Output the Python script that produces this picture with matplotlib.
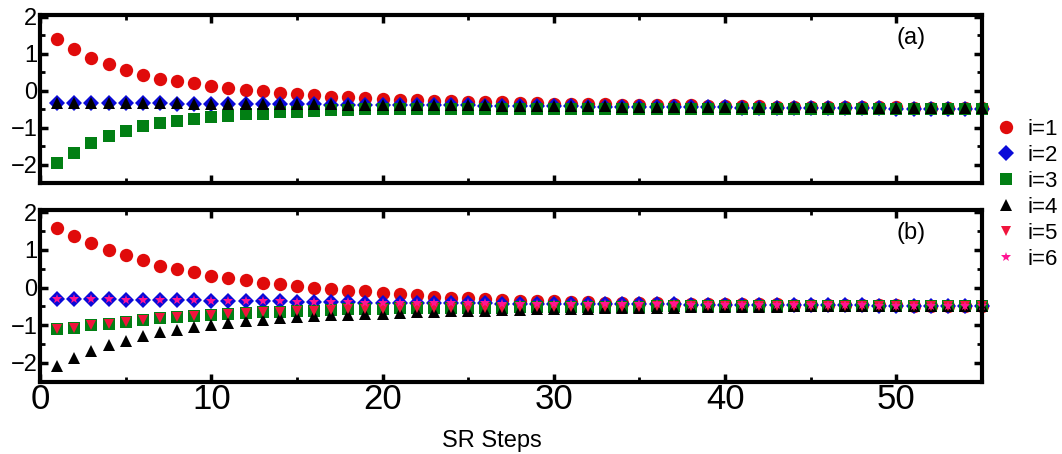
import numpy as np
import matplotlib
matplotlib.use("Agg")
import matplotlib.pyplot as plt
from matplotlib.ticker import MultipleLocator

plt.rcParams["font.family"] = ["Liberation Sans", "DejaVu Sans"]

steps = np.arange(1, 56)

# panel (a): four components
a_i1 = [1.40, 1.13, 0.88, 0.72, 0.56, 0.42, 0.32, 0.26, 0.21, 0.12, 0.07, 0.01, -0.02, -0.07, -0.10, -0.13, -0.16, -0.18,
        -0.20, -0.22, -0.24, -0.26, -0.27, -0.29, -0.30, -0.31, -0.32, -0.33, -0.34, -0.35, -0.36, -0.36, -0.37, -0.38, -0.38, -0.39, -0.40,
        -0.40, -0.41, -0.41, -0.42, -0.42, -0.43, -0.43, -0.44, -0.44, -0.44, -0.45, -0.45, -0.45, -0.46, -0.46, -0.46, -0.47, -0.47]
a_i2 = [-0.33, -0.33, -0.33, -0.34, -0.34, -0.34, -0.34, -0.35, -0.35, -0.35,
        -0.36, -0.36, -0.36, -0.37, -0.37, -0.37, -0.38, -0.38, -0.38, -0.39,
        -0.39, -0.39, -0.40, -0.40, -0.40, -0.41, -0.41, -0.41, -0.42, -0.42,
        -0.42, -0.43, -0.43, -0.43, -0.44, -0.44, -0.44, -0.45, -0.45, -0.45,
        -0.46, -0.46, -0.46, -0.47, -0.47, -0.47, -0.48, -0.48, -0.48, -0.49,
        -0.49, -0.49, -0.49, -0.50, -0.50]
a_i3 = [-1.95, -1.70, -1.43, -1.23, -1.08, -0.96, -0.88, -0.82, -0.76, -0.72, -0.69, -0.64, -0.62, -0.59, -0.57, -0.55, -0.53, -0.52,
        -0.51, -0.50, -0.50, -0.50, -0.49, -0.49, -0.49, -0.49, -0.49, -0.49, -0.49, -0.49, -0.49, -0.49, -0.49, -0.49, -0.49, -0.49, -0.49,
        -0.49, -0.49, -0.49, -0.49, -0.49, -0.49, -0.49, -0.49, -0.49, -0.49, -0.49, -0.49, -0.49, -0.49, -0.49, -0.49, -0.49, -0.49]
a_i4 = [-0.33, -0.33, -0.33, -0.33, -0.34, -0.34, -0.34, -0.34, -0.35, -0.35,
        -0.35, -0.36, -0.36, -0.36, -0.37, -0.37, -0.37, -0.38, -0.38, -0.38,
        -0.39, -0.39, -0.39, -0.40, -0.40, -0.40, -0.41, -0.41, -0.41, -0.42,
        -0.42, -0.42, -0.42, -0.43, -0.43, -0.43, -0.43, -0.44, -0.44, -0.44,
        -0.44, -0.45, -0.45, -0.45, -0.45, -0.45, -0.46, -0.46, -0.46, -0.46,
        -0.46, -0.46, -0.47, -0.47, -0.47]

# panel (b): six components
b_i1 = [1.57, 1.37, 1.19, 1.00, 0.86, 0.73, 0.58, 0.49, 0.40, 0.31, 0.25, 0.20, 0.13, 0.09, 0.03, -0.01, -0.04, -0.08,
        -0.10, -0.14, -0.18, -0.21, -0.24, -0.27, -0.29, -0.31, -0.33, -0.35, -0.36, -0.37, -0.38, -0.39, -0.40, -0.41, -0.42, -0.42, -0.43,
        -0.43, -0.44, -0.44, -0.45, -0.45, -0.45, -0.46, -0.46, -0.46, -0.47, -0.47, -0.47, -0.47, -0.48, -0.48, -0.48, -0.48, -0.48]
b_i2 = [-0.31, -0.31, -0.31, -0.31, -0.32, -0.32, -0.33, -0.33, -0.34, -0.35,
        -0.35, -0.36, -0.37, -0.37, -0.38, -0.38, -0.39, -0.39, -0.40, -0.40,
        -0.41, -0.41, -0.41, -0.42, -0.42, -0.42, -0.43, -0.43, -0.43, -0.44,
        -0.44, -0.44, -0.44, -0.45, -0.45, -0.45, -0.45, -0.46, -0.46, -0.46,
        -0.46, -0.46, -0.47, -0.47, -0.47, -0.47, -0.47, -0.47, -0.48, -0.48,
        -0.48, -0.48, -0.48, -0.48, -0.48]
b_i3 = [-1.11, -1.06, -1.00, -0.96, -0.91, -0.87, -0.81, -0.78, -0.75, -0.73, -0.69, -0.67, -0.65, -0.64, -0.63, -0.61, -0.59, -0.58,
        -0.57, -0.56, -0.55, -0.55, -0.54, -0.54, -0.53, -0.53, -0.53, -0.52, -0.52, -0.52,
        -0.52, -0.51, -0.51, -0.51, -0.51, -0.50, -0.50, -0.50, -0.50, -0.50,
        -0.49, -0.49, -0.49, -0.49, -0.49, -0.49, -0.49, -0.49, -0.49, -0.49,
        -0.49, -0.49, -0.49, -0.49, -0.49]
b_i4 = [-2.08, -1.86, -1.68, -1.52, -1.42, -1.28, -1.19, -1.12, -1.04, -1.00, -0.93, -0.88, -0.85, -0.82, -0.79, -0.76, -0.74, -0.72,
        -0.70, -0.69, -0.67, -0.66, -0.65, -0.63, -0.62, -0.61, -0.60, -0.59, -0.58, -0.57,
        -0.56, -0.56, -0.55, -0.54, -0.54, -0.53, -0.53, -0.52, -0.52, -0.52,
        -0.51, -0.51, -0.51, -0.50, -0.50, -0.50, -0.50, -0.49, -0.49, -0.49,
        -0.49, -0.49, -0.49, -0.48, -0.48]
b_i5 = list(b_i3)
b_i6 = list(b_i2)

labels = ["i=1", "i=2", "i=3", "i=4", "i=5", "i=6"]
styles = [
    dict(marker="o", color="#e00b0b", ms=9.6),
    dict(marker="D", color="#0a0ad8", ms=7.8),
    dict(marker="s", color="#027f14", ms=8.2),
    dict(marker="^", color="#000000", ms=9),
    dict(marker="v", color="#f0143c", ms=7),
    dict(marker="*", color="#ff1493", ms=7),
]

fig = plt.figure(figsize=(10.62, 4.54), dpi=100)
ax_a = fig.add_axes([0.0377, 0.597, 0.8870, 0.370])
ax_b = fig.add_axes([0.0377, 0.159, 0.8870, 0.378])

handles = []
for series, st, lab in zip([a_i1, a_i2, a_i3, a_i4], styles, labels):
    ax_a.plot(steps, series, linestyle="none", marker=st["marker"], color=st["color"],
              markersize=st["ms"], markeredgewidth=0, clip_on=False)

for series, st, lab in zip([b_i1, b_i2, b_i3, b_i4, b_i5, b_i6], styles, labels):
    h, = ax_b.plot(steps, series, linestyle="none", marker=st["marker"], color=st["color"],
                   markersize=st["ms"], markeredgewidth=0, clip_on=False, label=lab)
    handles.append(h)

for ax, tag in [(ax_a, "(a)"), (ax_b, "(b)")]:
    ax.set_xlim(0, 55)
    ax.set_ylim(-2.5, 2.05)
    ax.xaxis.set_major_locator(MultipleLocator(10))
    ax.xaxis.set_minor_locator(MultipleLocator(5))
    ax.yaxis.set_major_locator(MultipleLocator(1))
    ax.yaxis.set_minor_locator(MultipleLocator(0.5))
    for sp in ax.spines.values():
        sp.set_linewidth(3)
    ax.tick_params(which="both", direction="in", top=True, right=True)
    ax.tick_params(which="major", length=6, width=2.5, labelsize=17, pad=2)
    ax.tick_params(which="minor", length=3.5, width=2)
    ax.text(0.925, 0.865, tag, transform=ax.transAxes, fontsize=17, ha="center", va="center")

ax_a.tick_params(axis="x", labelbottom=False)
ax_b.tick_params(axis="x", labelsize=25, pad=1)
ax_b.set_xlabel("SR Steps", fontsize=17)
ax_b.xaxis.set_label_coords(0.48, -0.28)

fig.legend(handles=handles, loc="center left", bbox_to_anchor=(0.928, 0.572), frameon=False,
           fontsize=16, handlelength=1.0, handletextpad=0.5, labelspacing=0.22, borderaxespad=0,
           markerscale=1.0)

fig.savefig("out.png", dpi=100)
